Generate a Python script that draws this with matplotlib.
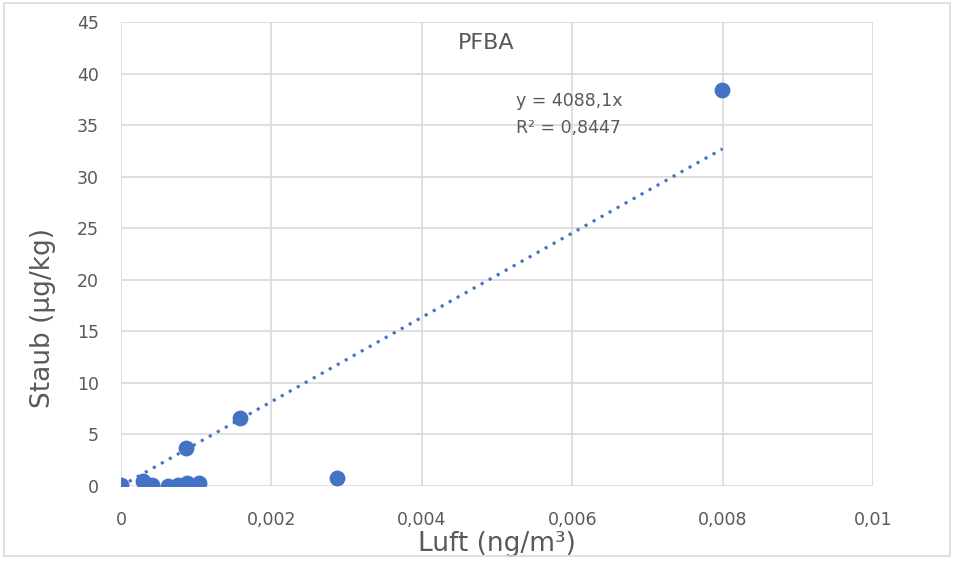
import matplotlib.pyplot as plt
from matplotlib.patches import Rectangle
from matplotlib.ticker import FuncFormatter

# data
luft = [0.0, 0.000295, 0.00041, 0.00063, 0.00076, 0.00088, 0.0009, 0.00104,
        0.00087, 0.00158, 0.00287, 0.00799]
staub = [0.1, 0.5, 0.1, 0.0, 0.1, 0.3, 0.0, 0.3,
         3.65, 6.6, 0.8, 38.4]
slope = 4088.1
r2 = 0.8447
trend_x = [0.0, 0.008]

blue = "#4472C4"
grey = "#595959"
grid = "#d9d9d9"

fig = plt.figure(figsize=(9.54, 5.61), dpi=100)
ax = fig.add_axes([0.1268, 0.1337, 0.7883, 0.8271])

fig.patches.append(Rectangle((4 / 954, 5 / 561), 946 / 954, 553 / 561,
                             transform=fig.transFigure, fill=False,
                             edgecolor=grid, linewidth=1.2))

ax.plot(trend_x, [slope * v for v in trend_x], linestyle=(0, (1, 2)),
        color=blue, linewidth=2.2, zorder=2)
ax.scatter(luft, staub, s=130, color=blue, zorder=3, linewidths=0)

ax.set_xlim(0, 0.01)
ax.set_ylim(0, 45)
ax.set_xticks([0, 0.002, 0.004, 0.006, 0.008, 0.01])
ax.set_yticks(range(0, 46, 5))
ax.xaxis.set_major_formatter(FuncFormatter(
    lambda v, p: "0" if v == 0 else ("%g" % v).replace(".", ",")))
ax.grid(True, color=grid, linewidth=1.2)
ax.set_axisbelow(True)
for s in ax.spines.values():
    s.set_visible(False)
ax.tick_params(length=0, labelsize=12.5, labelcolor=grey)
ax.tick_params(axis="x", pad=18)
ax.tick_params(axis="y", pad=16)

ax.text(0.485, 0.955, "PFBA", transform=ax.transAxes, ha="center",
        va="center", fontsize=16, color=grey)
ax.text(0.525, 0.829, "y = 4088,1x", transform=ax.transAxes,
        fontsize=12.5, color=grey, va="center")
ax.text(0.525, 0.771, "R² = 0,8447", transform=ax.transAxes,
        fontsize=12.5, color=grey, va="center")

ax.set_xlabel("Luft (ng/m³)", fontsize=19, color=grey)
ax.xaxis.set_label_coords(0.5, -0.097)
ax.set_ylabel("Staub (µg/kg)", fontsize=19, color=grey)
ax.yaxis.set_label_coords(-0.086, 0.362)

fig.savefig("out.png", dpi=100)
